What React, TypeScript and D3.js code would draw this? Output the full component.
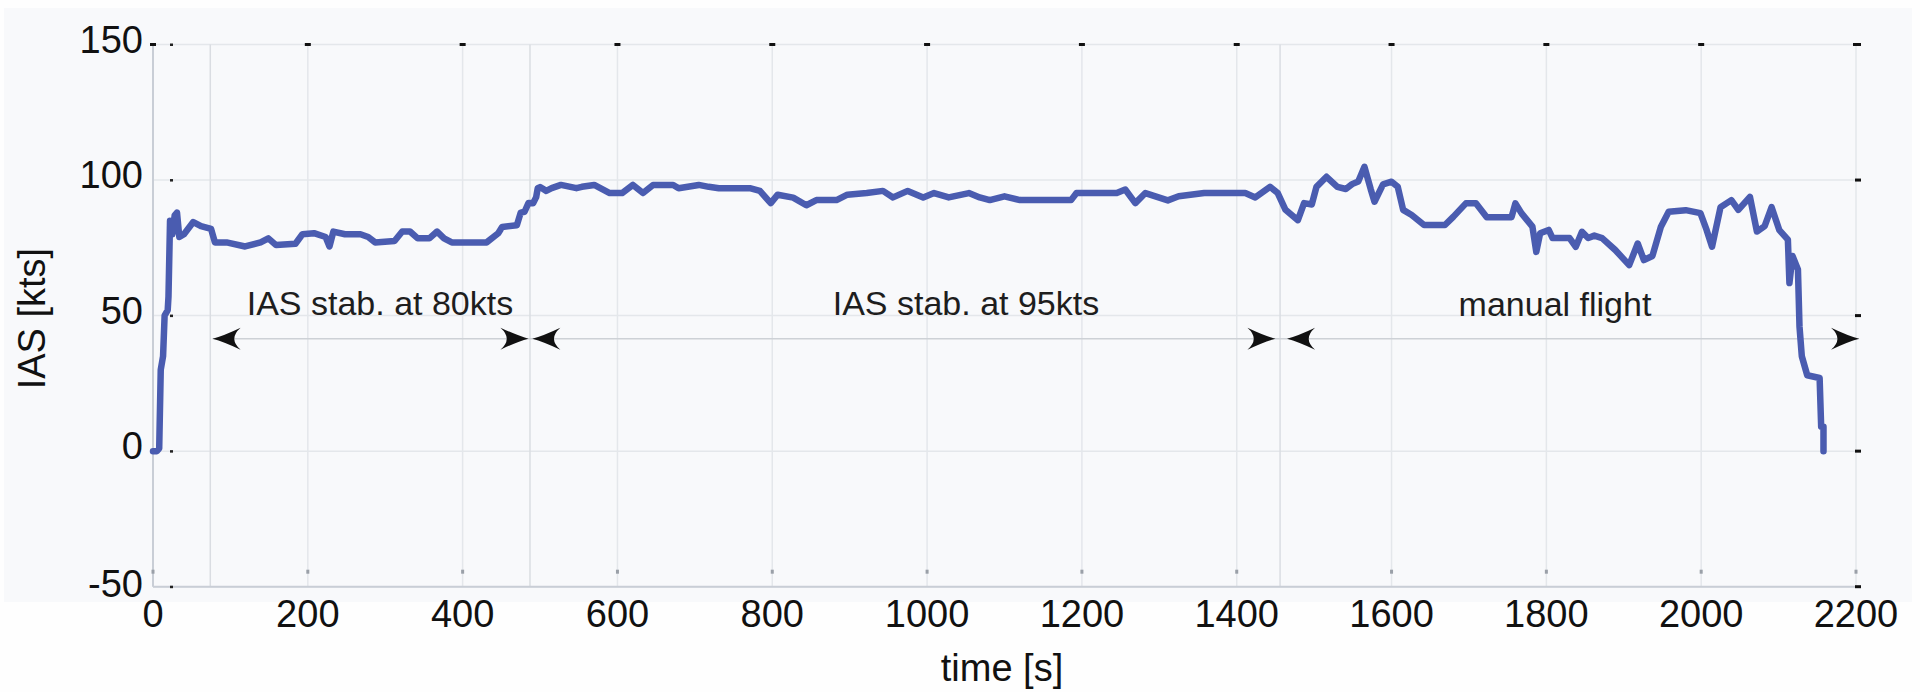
import * as d3 from 'd3';

// IAS trace
const timeS = [
  0, 5, 8, 10, 13, 15, 19, 20, 22, 25, 28, 31, 34, 40, 52, 62, 75, 80, 95, 119, 139, 149, 159, 184,
  193, 208, 223, 228, 233, 248, 268, 278, 287, 312, 322, 332, 342, 357, 367, 376, 386, 431, 446,
  451, 470, 475, 480, 485, 491, 495, 497, 500, 508, 515, 527, 547, 554, 570, 590, 606, 620, 633,
  646, 672, 679, 705, 718, 731, 771, 784, 798, 807, 827, 844, 857, 883, 897, 922, 943, 956, 975,
  995, 1009, 1028, 1054, 1068, 1081, 1100, 1120, 1186, 1193, 1245, 1256, 1269, 1282, 1311, 1325,
  1358, 1411, 1424, 1443, 1453, 1463, 1479, 1487, 1497, 1503, 1516, 1530, 1541, 1549, 1557, 1565,
  1573, 1578, 1589, 1600, 1608, 1615, 1626, 1642, 1669, 1680, 1696, 1709, 1723, 1755, 1760, 1768,
  1782, 1787, 1792, 1803, 1808, 1830, 1838, 1846, 1854, 1862, 1872, 1889, 1907, 1918, 1926, 1937,
  1948, 1958, 1980, 1999, 2007, 2014, 2025, 2039, 2048, 2063, 2072, 2082, 2091, 2101, 2112, 2114,
  2118, 2125, 2127, 2130, 2137, 2153, 2155, 2158, 2158
];
const iasKts = [
  0, 0, 1, 30, 35, 50, 52, 57, 85, 80, 87, 88, 79, 80, 84.5, 83, 82, 77, 77, 75.5, 77, 78.5, 76, 76.5,
  80, 80.4, 79, 75.5, 81, 80, 80, 79, 77, 77.5, 81, 81, 78.5, 78.5, 81, 78.5, 77, 77, 80.4,
  82.7, 83.3, 88, 88.3, 91.5, 91.4, 93.7, 97, 97.4, 96, 97, 98.2, 97, 97.5, 98.2, 95.2, 95.2, 98.2, 95.2,
  98.2, 98.2, 97, 98.2, 97.5, 97, 97, 96, 91.5, 94.6, 93.5, 90.7, 92.6, 92.6, 94.6, 95.2, 96, 93.6, 96,
  93.6, 95.2, 93.6, 95.2, 93.6, 92.6, 94, 92.6, 92.6, 95.2, 95.2, 96.5, 91.5, 95.2, 92.5, 94,
  95.2, 95.2, 93.6, 97.5, 95.2, 89, 85.2, 91.5, 91, 97.5, 101.2, 97.5, 96.7, 98.5, 99.5, 104.9,
  96.7, 92, 98.4, 99.4, 97.5, 89, 87.1, 83.4, 83.4, 86.5, 91.4, 91.4, 86.3, 86.3, 91.4, 87.7,
  82.8, 73.5, 80.4, 81.6, 78.6, 78.6, 75.4, 80.9, 78.6, 79.5, 78.6, 74.2, 68.6, 76.6, 70.5, 72,
  82.8, 88.3, 88.9, 87.8, 81.6, 75.4, 90, 92.6, 89, 93.8, 81, 83, 90, 81.5, 78, 62,
  72, 67, 46, 35, 28, 27, 9, 9, 0
];

const xTicks = d3.range(0, 2201, 200);
const yTicks = [-50, 0, 50, 100, 150];

const phases = [
  { label: 'IAS stab. at 80kts', start: 77, end: 485, boundary: 74 },
  { label: 'IAS stab. at 95kts', start: 490, end: 1450, boundary: 487 },
  { label: 'manual flight', start: 1465, end: 2204, boundary: 1456 }
];
const arrowLevel = 41.5;

const W = 1920;
const H = 692;
const font = '"Liberation Sans", Arial, Helvetica, sans-serif';

function arrowHead(tipX: number, tipY: number, dir: number) {
  // barbed arrow head, dir = 1 points right, -1 points left
  const L = 28 * dir;
  return `M${tipX},${tipY} Q${tipX - L * 0.4},${tipY - 3} ${tipX - L},${tipY - 11} ` +
    `Q${tipX - L * 0.55},${tipY} ${tipX - L},${tipY + 11} Q${tipX - L * 0.4},${tipY + 3} ${tipX},${tipY} Z`;
}

export default function App() {
  const x = d3.scaleLinear().domain([0, 2200]).range([153, 1856]);
  const y = d3.scaleLinear().domain([-50, 150]).range([586.7, 44.5]);

  const line = d3
    .line<number>()
    .x((_, i) => x(timeS[i]))
    .y((v) => y(v));

  const top = y(150);
  const bottom = y(-50);
  const ay = y(arrowLevel);

  return (
    <svg
      width={W}
      height={H}
      style={{ position: 'absolute', left: 0, top: 0, background: '#fefefe' }}
      fontFamily={font}
    >
      <rect x={4} y={8} width={1908} height={594} fill="#f8f9fb" />

      {/* grid */}
      {xTicks.map((t) => (
        <line key={`gx${t}`} x1={x(t)} x2={x(t)} y1={top} y2={bottom} stroke="#e4e7eb" strokeWidth={1.5} />
      ))}
      {yTicks.map((v) => (
        <line key={`gy${v}`} x1={x(0)} x2={x(2200)} y1={y(v)} y2={y(v)} stroke="#e4e7eb" strokeWidth={1.5} />
      ))}
      {phases.map((p) => (
        <line key={`b${p.boundary}`} x1={x(p.boundary)} x2={x(p.boundary)} y1={top} y2={bottom} stroke="#dadde2" strokeWidth={1.5} />
      ))}

      {/* axes box */}
      <line x1={x(0)} x2={x(0)} y1={top} y2={bottom} stroke="#c9ced6" strokeWidth={2} />
      <line x1={x(0)} x2={x(2200)} y1={bottom} y2={bottom} stroke="#c9ced6" strokeWidth={2} />

      {/* ticks */}
      {xTicks.map((t) => (
        <g key={`tx${t}`}>
          <rect x={x(t) - 3} y={top - 1.5} width={6} height={3} fill="#111" />
          <rect x={x(t) - 1.5} y={bottom - 17} width={3} height={4} fill="#9aa0a8" />
        </g>
      ))}
      {yTicks.map((v) => (
        <g key={`ty${v}`}>
          <rect x={x(2200) - 1} y={y(v) - 1.5} width={6} height={3} fill="#111" />
          <rect x={x(0) + 17} y={y(v) - 1} width={3} height={2.5} fill="#222" />
        </g>
      ))}

      {/* phase arrows */}
      <line x1={x(phases[0].start)} x2={x(phases[2].end)} y1={ay} y2={ay} stroke="#cdd1d6" strokeWidth={1.5} />
      {phases.map((p) => (
        <g key={`a${p.label}`}>
          <path d={arrowHead(x(p.start), ay, -1)} fill="#111" />
          <path d={arrowHead(x(p.end), ay, 1)} fill="#111" />
        </g>
      ))}
      <text x={380} y={315} fontSize={34} textAnchor="middle" fill="#1e1e1e">{phases[0].label}</text>
      <text x={966} y={315} fontSize={34} textAnchor="middle" fill="#1e1e1e">{phases[1].label}</text>
      <text x={1555} y={316} fontSize={34} textAnchor="middle" fill="#1e1e1e">{phases[2].label}</text>

      {/* data */}
      <path
        d={line(iasKts) || ''}
        fill="none"
        stroke="#4a5cb0"
        strokeWidth={6.5}
        strokeLinejoin="round"
        strokeLinecap="round"
      />

      {/* tick labels */}
      {yTicks.map((v) => (
        <text key={`ly${v}`} x={143} y={y(v) + (v === -50 ? 10 : 8)} fontSize={38} textAnchor="end" fill="#111">
          {v}
        </text>
      ))}
      {xTicks.map((t) => (
        <text key={`lx${t}`} x={x(t)} y={627} fontSize={38} textAnchor="middle" fill="#111">
          {t}
        </text>
      ))}

      <text x={1002} y={681} fontSize={38} textAnchor="middle" fill="#111">time [s]</text>
      <text
        transform={`translate(45,${(top + bottom) / 2 + 3}) rotate(-90)`}
        fontSize={38}
        textAnchor="middle"
        fill="#111"
      >
        IAS [kts]
      </text>
    </svg>
  );
}
